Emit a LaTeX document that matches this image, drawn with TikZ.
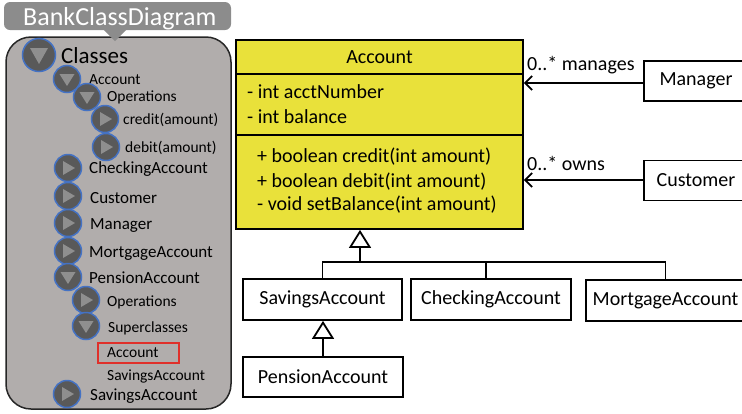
\documentclass[tikz,border=0pt]{standalone}
\usepackage{fontspec}
\setmainfont{Carlito}
\usetikzlibrary{arrows.meta}
\definecolor{panelgray}{HTML}{B1ADAC}
\definecolor{tabgray}{HTML}{8C8C8C}
\definecolor{iconfill}{HTML}{595959}
\definecolor{iconblue}{HTML}{4472C4}
\definecolor{trigray}{HTML}{8F8F8F}
\definecolor{umlyellow}{HTML}{E9E13A}
\definecolor{selred}{HTML}{E0302A}
\newcommand\setfs[1]{\fontsize{#1}{#1}\selectfont}
\tikzset{
  tl/.style={anchor=base west, inner sep=0pt},
  small/.style={tl, font=\setfs{15.5}},
  big/.style={tl, font=\setfs{17}},
  umlbox/.style={draw, line width=1.8pt, inner sep=0pt, font=\setfs{20}},
  umltext/.style={tl, font=\setfs{20}},
  gen/.style={line width=1.8pt, -{Triangle[open,length=18pt,width=22pt]}},
  assoc/.style={line width=1.8pt, -{Straight Barb[length=7pt,width=14pt]}},
  iconR/.pic={\filldraw[fill=iconfill, draw=iconblue, line width=1.5pt] (0,0) circle [radius=13.5pt];
              \fill[trigray] (-5,-7) -- (7,0) -- (-5,7) -- cycle;},
  iconD/.pic={\filldraw[fill=iconfill, draw=iconblue, line width=1.5pt] (0,0) circle [radius=13.5pt];
              \fill[trigray] (-7.5,-5) -- (7.5,-5) -- (0,7) -- cycle;},
  iconBig/.pic={\filldraw[fill=iconfill, draw=iconblue, line width=1.5pt] (0,0) circle [radius=16.5pt];
              \fill[trigray] (-9,-7) -- (9,-7) -- (0,9) -- cycle;},
}
\begin{document}
\begin{tikzpicture}[x=1pt,y=-1pt]
\useasboundingbox (0,0) rectangle (742,413);
\clip (0,0) rectangle (742,413);
% left panel
\filldraw[fill=panelgray, draw=black!85, line width=1.5pt, rounded corners=25pt] (6,37) rectangle (231,409);
\fill[tabgray, rounded corners=6pt] (4,2) rectangle (231,30);
\fill[tabgray] (103,29) -- (127,29) -- (115,41) -- cycle;
\node[tl, text=white, font=\setfs{26}] (title) at (23,25) {BankClassDiagram};
% tree
\pic at (39,55) {iconBig};
\node[tl, font=\setfs{23}] (tClasses) at (61,63) {Classes};
\pic at (67,79) {iconD};
\node[small] (tAccount) at (89,84) {Account};
\pic at (87,97) {iconD};
\node[small] (tOps) at (107,101) {Operations};
\pic at (105,119) {iconR};
\node[small] (tCredit) at (123,124) {credit(amount)};
\pic at (106,147) {iconR};
\node[small] (tDebit) at (125,152) {debit(amount)};
\pic at (68,168) {iconR};
\node[big] (tChecking) at (89,173) {CheckingAccount};
\pic at (68,196) {iconR};
\node[big] (tCustomer) at (90,203) {Customer};
\pic at (68,223) {iconR};
\node[big] (tManager) at (90,229) {Manager};
\pic at (68,251) {iconR};
\node[big] (tMortgage) at (89,257) {MortgageAccount};
\pic at (68,277) {iconD};
\node[big] (tPension) at (89,283) {PensionAccount};
\pic at (86,300) {iconR};
\node[small] (tOps2) at (107,306) {Operations};
\pic at (86,326) {iconD};
\node[small] (tSuper) at (108,332) {Superclasses};
\draw[selred, line width=1.5pt] (98,343) rectangle (179,363);
\node[small] (tSelAcc) at (107,357) {Account};
\node[small] (tSavPlain) at (107,380) {SavingsAccount};
\pic at (67,394) {iconR};
\node[big] (tSavings) at (90,400) {SavingsAccount};
% UML Account class
\node[umlbox, fill=umlyellow, minimum width=287pt, minimum height=189pt] (acc) at (379.5,134.5) {};
\draw[line width=1.8pt] (acc.west |- 0,74) -- (acc.east |- 0,74);
\draw[line width=1.8pt] (acc.west |- 0,135) -- (acc.east |- 0,135);
\node[font=\setfs{20}, inner sep=0pt, anchor=base] (accName) at (379.5,63) {Account};
\node[umltext] (a1) at (247,98) {- int acctNumber};
\node[umltext] (a2) at (247,123) {- int balance};
\node[umltext] (m1) at (257,162) {+ boolean credit(int amount)};
\node[umltext] (m2) at (257,187) {+ boolean debit(int amount)};
\node[umltext] (m3) at (257,210) {- void setBalance(int amount)};
% other classes
\node[umlbox, fill=white, minimum width=104pt, minimum height=40pt] (mgr) at (696,81) {Manager};
\node[umlbox, fill=white, minimum width=104pt, minimum height=40pt] (cust) at (696,180.5) {Customer};
\node[umlbox, fill=white, minimum width=159pt, minimum height=41pt] (sav) at (322.5,299.5) {SavingsAccount};
\node[umlbox, fill=white, minimum width=160pt, minimum height=41pt] (chk) at (491,299.5) {CheckingAccount};
\node[umlbox, fill=white, minimum width=159pt, minimum height=41pt] (mort) at (665.5,300.5) {MortgageAccount};
\node[umlbox, fill=white, minimum width=160pt, minimum height=40pt] (pen) at (323,377) {PensionAccount};
% associations
\draw[assoc] (mgr.west |- 0,83) -- (acc.east |- 0,83);
\node[umltext] (lblMgr) at (527,70) {0..* manages};
\draw[assoc] (cust.west |- 0,180) -- (acc.east |- 0,180);
\node[umltext] (lblCust) at (527,170) {0..* owns};
% generalizations
\coordinate (j) at (360,262);
\draw[gen] (j) -- (j |- acc.south);
\draw[line width=1.8pt] (sav.north) |- (j) -| (mort.north);
\draw[line width=1.8pt] ([xshift=-5pt]chk.north) -- ([xshift=-5pt]chk.north |- j);
\draw[gen] (pen.north) -- (pen.north |- sav.south);
\end{tikzpicture}
\end{document}
